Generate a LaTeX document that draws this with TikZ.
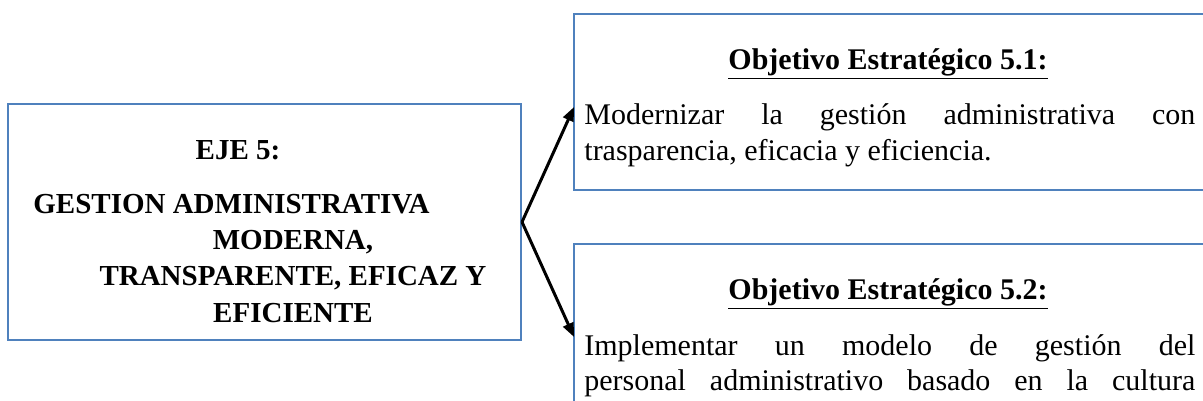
\documentclass[tikz,border=0pt]{standalone}
\usepackage{fontspec}
\setmainfont{Liberation Serif}
\usetikzlibrary{arrows.meta}
\definecolor{wordblue}{HTML}{4F81BD}
\tikzset{
  frame/.style={draw=wordblue, line width=1pt, inner sep=0pt, fill=white},
  ejetext/.style={font=\fontsize{14.5}{17}\selectfont\bfseries, inner sep=0pt},
  titletext/.style={font=\fontsize{15}{18}\selectfont\bfseries, inner sep=0pt},
  bodytext/.style={font=\fontsize{15}{18}\selectfont, inner sep=0pt},
  link/.style={line width=1.5pt, -{Triangle[length=7pt,width=5.5pt]}}
}
\begin{document}
\begin{tikzpicture}[x=0.5pt,y=-0.5pt]
\useasboundingbox (0,0) rectangle (1203,401);
\clip (0,0) rectangle (1203,401);
% boxes
\node[frame, minimum width=256.5pt, minimum height=118pt] (eje) at (264.5,222) {};
\node[frame, minimum width=318.5pt, minimum height=88pt] (o1) at (892.5,102) {};
\node[frame, minimum width=318.5pt, minimum height=100pt] (o2) at (892.5,344) {};
% left box text
\node[ejetext, anchor=base] (e1) at (238,159) {EJE 5:};
\node[ejetext, anchor=base west] (e2) at (33,213) {GESTION ADMINISTRATIVA};
\node[ejetext, anchor=base] (e3) at (293,249) {MODERNA,};
\node[ejetext, anchor=base] (e4) at (293,285) {TRANSPARENTE, EFICAZ Y};
\node[ejetext, anchor=base] (e5) at (293,322) {EFICIENTE};
% objective 1
\node[titletext, anchor=base] (t1) at (888,69) {\underline{Objetivo Estratégico 5.1:}};
\node[bodytext, anchor=base west] (b11) at (584,125) {\makebox[305.5pt][s]{Modernizar la gestión administrativa con}};
\node[bodytext, anchor=base west] (b12) at (584,160) {trasparencia, eficacia y eficiencia.};
% objective 2
\node[titletext, anchor=base] (t2) at (888,299) {\underline{Objetivo Estratégico 5.2:}};
\node[bodytext, anchor=base west] (b21) at (584,355) {\makebox[305.5pt][s]{Implementar un modelo de gestión del}};
\node[bodytext, anchor=base west] (b22) at (584,390) {\makebox[305.5pt][s]{personal administrativo basado en la cultura}};
% arrows
\coordinate (a1) at (574,107);
\coordinate (a2) at (574,337);
\draw[link] (eje.east) -- (a1);
\draw[link] (eje.east) -- (a2);
\end{tikzpicture}
\end{document}
